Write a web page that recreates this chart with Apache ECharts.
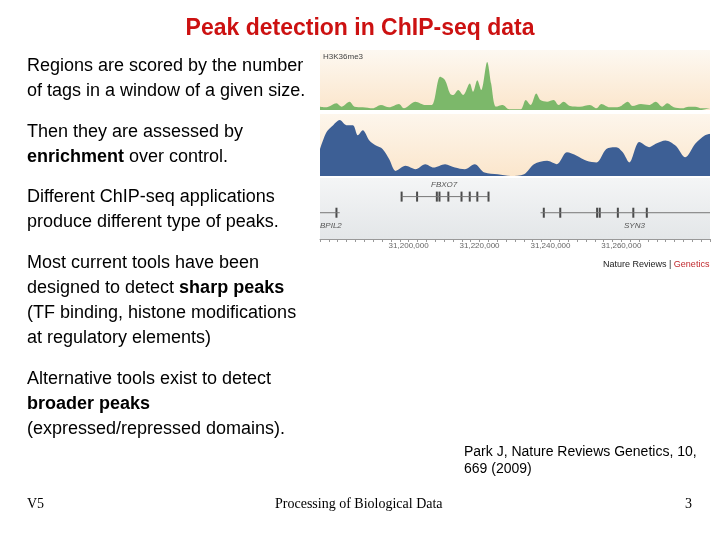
<!DOCTYPE html>
<html><head><meta charset="utf-8">
<script src="https://cdn.jsdelivr.net/npm/echarts@6/dist/echarts.min.js"></script>
<style>html,body{margin:0;padding:0;background:#fff}#c{width:720px;height:540px}</style>
</head><body><div id="c"></div>
<script>
// Track positions are in the figure's horizontal units (0..1185 across the track)
const greenPos = [0,20,50,65,90,105,130,160,185,210,240,255,290,320,340,365,380,395,405,420,435,455,465,478,490,508,520,535,555,575,610,625,640,657,670,690,710,725,740,760,790,820,840,855,880,910,935,950,975,1000,1020,1040,1055,1075,1100,1120,1140,1160,1185];
const greenVal = [10,8,20,10,25,10,8,5,15,8,18,5,25,15,15,100,90,50,45,60,45,80,55,90,60,145,80,10,15,2,2,30,15,50,30,25,30,15,25,12,10,15,5,18,8,10,25,12,18,15,25,10,20,8,5,10,10,5,5];
const bluePos = [0,20,40,60,80,100,115,130,150,170,190,210,230,260,290,320,345,380,410,440,470,500,540,580,620,650,690,720,750,780,810,840,870,900,920,940,970,1000,1020,1050,1080,1110,1140,1170,1185];
const blueVal = [80,130,150,165,150,150,120,135,105,90,80,50,15,30,20,35,25,35,25,20,35,10,5,0,5,35,45,35,70,60,45,40,80,85,70,40,100,85,95,105,90,55,95,120,125];
const fbxo7 = {start:248,end:512,exons:[248,295,355,363,390,430,455,478,512]};
const syn3 = {start:670,end:1185,exons:[680,730,842,850,905,952,993]};
const bpil2 = {start:0,end:60,exons:[50]};
const genomicTicks = [31200000,31220000,31240000,31260000];

const pair=(p,v)=>p.map((x,i)=>[x,v[i]]);
const bg=(a,b)=>new echarts.graphic.LinearGradient(0,0,0,1,[{offset:0,color:a},{offset:1,color:b}]);
const hid={show:false};
const trackX=(i)=>({type:'value',gridIndex:i,min:0,max:1185,show:false});
const chart=echarts.init(document.getElementById('c'));
const gene=(g,y)=>[
 {type:'line',xAxisIndex:2,yAxisIndex:2,data:[[g.start,y],[g.end,y]],symbol:'none',lineStyle:{color:'#777',width:1},silent:true},
 {type:'scatter',xAxisIndex:2,yAxisIndex:2,data:g.exons.map(e=>[e,y]),symbol:'rect',symbolSize:[2,10],itemStyle:{color:'#222'},silent:true}
];
const body=[
 ['Regions are scored by the number',67],['of tags in a window of a given size.',92],
 ['Then they are assessed by',133],['{b|enrichment} over control.',158],
 ['Different ChIP-seq applications',198],['produce different type of peaks.',223],
 ['Most current tools have been',264],['designed to detect {b|sharp peaks}',289],
 ['(TF binding, histone modifications',314],['at regulatory elements)',339],
 ['Alternative tools exist to detect',380],['{b|broader peaks}',405],['(expressed/repressed domains).',430]
];
chart.setOption({
 animation:false,
 grid:[
  {left:320,top:50,width:390,height:60,show:true,borderWidth:0,backgroundColor:bg('#fdf8f1','#fbe6cc')},
  {left:320,top:114,width:390,height:62,show:true,borderWidth:0,backgroundColor:bg('#fdf6ec','#fbe6cc')},
  {left:320,top:178,width:390,height:62,show:true,borderWidth:0,backgroundColor:bg('#f4f5f6','#e3e6e8')},
  {left:320,top:238,width:390,height:1,show:false}
 ],
 xAxis:[trackX(0),trackX(1),trackX(2),
  {type:'value',gridIndex:3,min:31175000,max:31285000,interval:2500,
   axisLine:{show:true,lineStyle:{color:'#999'}},axisTick:{show:true,length:3,lineStyle:{color:'#999'}},
   splitLine:hid,axisLabel:{show:true,fontSize:8,color:'#666',margin:3,fontFamily:'Liberation Sans',
    formatter:v=>genomicTicks.includes(v)?v.toLocaleString('en-US'):''}}],
 yAxis:[{type:'value',gridIndex:0,min:0,max:181,show:false},{type:'value',gridIndex:1,min:0,max:183,show:false},
  {type:'value',gridIndex:2,min:0,max:100,show:false},{type:'value',gridIndex:3,show:false}],
 series:[
  {type:'line',xAxisIndex:0,yAxisIndex:0,data:pair(greenPos,greenVal),symbol:'none',smooth:0.3,lineStyle:{width:0},areaStyle:{color:'#7cb86a',opacity:1}},
  {type:'line',xAxisIndex:1,yAxisIndex:1,data:pair(bluePos,blueVal),symbol:'none',smooth:0.3,lineStyle:{width:0},areaStyle:{color:'#3d5f95',opacity:1}},
  ...gene(fbxo7,70),...gene(syn3,44),...gene(bpil2,44)
 ],
 graphic:[
  {type:'text',left:'center',top:17,style:{text:'Peak detection in ChIP-seq data',fill:'#cc1111',font:'bold 23px "Liberation Sans", Arial'}},
  ...body.map(([t,y])=>({type:'text',left:27,top:y-10,style:{text:t,fill:'#000',font:'18px "Liberation Sans", Arial',rich:{b:{fontWeight:'bold',fontSize:18,fontFamily:'Liberation Sans'}}}})),
  {type:'text',left:323,top:53,style:{text:'H3K36me3',fill:'#444',font:'8px "Liberation Sans"'}},
  {type:'text',left:323,top:163,style:{text:'H3K27me3',fill:'#dde4ef',font:'8px "Liberation Sans"'}},
  {type:'text',left:431,top:181,style:{text:'FBXO7',fill:'#555',font:'italic 8px "Liberation Sans"'}},
  {type:'text',left:320,top:222,style:{text:'BPIL2',fill:'#555',font:'italic 8px "Liberation Sans"'}},
  {type:'text',left:624,top:222,style:{text:'SYN3',fill:'#555',font:'italic 8px "Liberation Sans"'}},
  {type:'text',left:603,top:260,style:{text:'Nature Reviews | {r|Genetics}',fill:'#222',font:'9px "Liberation Sans"',rich:{r:{fill:'#c0282d',fontSize:9,fontFamily:'Liberation Sans'}}}},
  {type:'text',left:464,top:444,style:{text:'Park J, Nature Reviews Genetics, 10,\n669 (2009)',fill:'#000',font:'14px "Liberation Sans"',lineHeight:17}},
  {type:'text',left:27,top:497,style:{text:'V5',fill:'#000',font:'14px "Liberation Serif"'}},
  {type:'text',left:275,top:497,style:{text:'Processing of Biological Data',fill:'#000',font:'14px "Liberation Serif"'}},
  {type:'text',left:685,top:497,style:{text:'3',fill:'#000',font:'14px "Liberation Serif"'}}
 ]
});
</script></body></html>
